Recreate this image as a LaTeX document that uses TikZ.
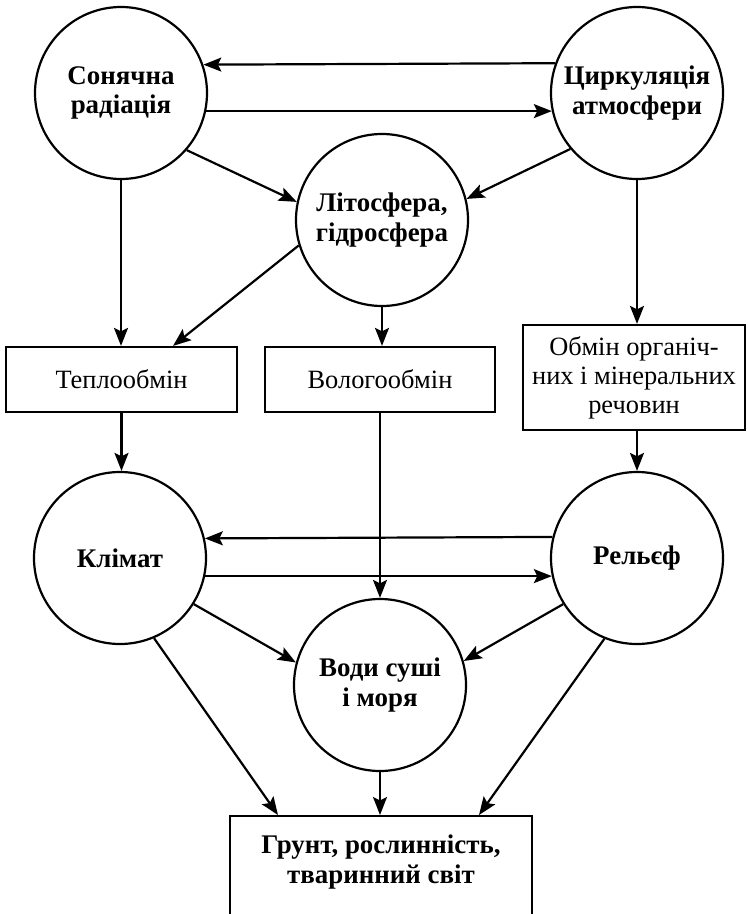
\documentclass[tikz,border=0pt]{standalone}
\usepackage{fontspec}
\setmainfont{Liberation Serif}
\usetikzlibrary{arrows.meta}
\begin{document}
\begin{tikzpicture}[x=1bp,y=-1bp,
  line width=2.2bp,
  circ/.style={draw, circle, minimum size=172bp, inner sep=0pt, align=center,
    font=\fontsize{27}{30}\selectfont\bfseries},
  rbox/.style={draw, rectangle, inner sep=0pt, align=center,
    font=\fontsize{26.5}{29}\selectfont},
  arr/.style={-{Stealth[length=18bp,width=14bp,inset=3.5bp]}}
]
\clip (0,0) rectangle (748,914);
\fill[white] (0,0) rectangle (748,914);

\node[circ] (son) at (121,93) {Сонячна\\радіація};
\node[circ] (cir) at (637,93) {Циркуляція\\атмосфери};
\node[circ] (lit) at (382,220) {Літосфера,\\гідросфера};
\node[circ] (kli) at (120,558) {Клімат};
\node[circ] (rel) at (637,558) {Рельєф};
\node[circ] (vod) at (380,685) {Води суші\\і моря};

\node[rbox, minimum width=231bp, minimum height=65bp] (tep) at (121.5,379.5) {Теплообмін};
\node[rbox, minimum width=230bp, minimum height=65bp] (vol) at (380,379.5) {Вологообмін};
\node[rbox, minimum width=222bp, minimum height=105bp] (obm) at (634,377.5) {Обмін органіч-\\них і мінеральних\\речовин};
\node[draw, rectangle, minimum width=302bp, minimum height=150bp, anchor=north] (gru) at (381,815) {};
\node[align=center, font=\fontsize{27}{30}\selectfont\bfseries] (grut) at (381,862) {Грунт, рослинність,\\тваринний світ};

% top pair
\draw[arr] (cir.160.3) -- (son.19.7);
\draw[arr] (son.-12.1) -- (cir.192.1);
% to lithosphere
\draw[arr] (son.-41.7) -- (lit.168.3);
\draw[arr] (cir.220.8) -- (lit.14.2);
% to boxes
\draw[arr] (son.south) -- (son.south |- tep.north);
\draw[arr] (lit.197.8) -- ([xshift=51.5bp]tep.north);
\draw[arr] (lit.south) -- (lit.south |- vol.north);
\draw[arr] (cir.south) -- (cir.south |- obm.north);
% boxes down
\draw[arr] (tep.south) -- (tep.south |- kli.north);
\draw[arr] (obm.south -| rel.north) -- (rel.north);
\draw[arr] (vol.south) -- (vod.north);
% middle pair
\draw[arr] (rel.166.6) -- (kli.13.4);
\draw[arr] (kli.-12.8) -- (rel.192.8);
% to waters
\draw[arr] (kli.-32) -- (vod.165.2);
\draw[arr] (rel.212.8) -- (vod.16.6);
% to soil
\draw[arr] (kli.-67.8) -- ([xshift=-103bp]gru.north);
\draw[arr] (rel.248.1) -- ([xshift=98bp]gru.north);
\draw[arr] (vod.south) -- (vod.south |- gru.north);
\end{tikzpicture}
\end{document}
